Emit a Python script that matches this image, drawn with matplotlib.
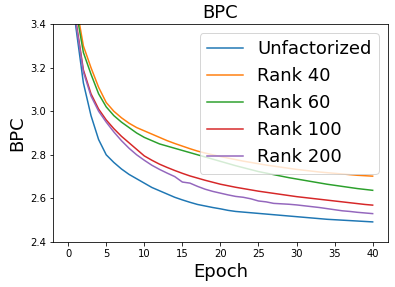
import matplotlib
matplotlib.use("Agg")
import matplotlib.pyplot as plt

epochs = list(range(41))

unfactorized = [
    3.90, 3.39, 3.13, 2.98, 2.87, 2.80, 2.765, 2.735, 2.71, 2.69,
    2.67, 2.65, 2.635, 2.62, 2.605, 2.593, 2.582, 2.572, 2.565, 2.558,
    2.552, 2.545, 2.540, 2.537, 2.534, 2.531, 2.528, 2.525, 2.522, 2.519,
    2.516, 2.513, 2.510, 2.507, 2.504, 2.502, 2.500, 2.498, 2.496, 2.494,
    2.492,
]
rank_40 = [
    4.10, 3.50, 3.30, 3.20, 3.11, 3.04, 3.00, 2.97, 2.945, 2.925,
    2.91, 2.895, 2.88, 2.865, 2.852, 2.84, 2.828, 2.817, 2.808, 2.80,
    2.792, 2.785, 2.778, 2.771, 2.765, 2.759, 2.753, 2.748, 2.743, 2.738,
    2.733, 2.729, 2.725, 2.721, 2.718, 2.715, 2.712, 2.709, 2.706, 2.704,
    2.702,
]
rank_60 = [
    4.00, 3.47, 3.27, 3.17, 3.08, 3.02, 2.98, 2.95, 2.925, 2.90,
    2.88, 2.865, 2.85, 2.84, 2.83, 2.82, 2.81, 2.80, 2.79, 2.78,
    2.770, 2.760, 2.750, 2.741, 2.732, 2.723, 2.716, 2.709, 2.702, 2.695,
    2.689, 2.683, 2.677, 2.671, 2.665, 2.660, 2.655, 2.650, 2.645, 2.641,
    2.637,
]
rank_100 = [
    4.00, 3.42, 3.19, 3.08, 3.01, 2.96, 2.92, 2.885, 2.855, 2.825,
    2.795, 2.775, 2.757, 2.742, 2.728, 2.715, 2.703, 2.693, 2.683, 2.674,
    2.665, 2.658, 2.651, 2.645, 2.639, 2.633, 2.628, 2.623, 2.618, 2.613,
    2.608, 2.604, 2.600, 2.596, 2.592, 2.588, 2.584, 2.580, 2.576, 2.572,
    2.569,
]
rank_200 = [
    4.00, 3.41, 3.18, 3.07, 3.00, 2.95, 2.905, 2.865, 2.83, 2.80,
    2.775, 2.752, 2.733, 2.716, 2.70, 2.675, 2.670, 2.655, 2.642, 2.632,
    2.624, 2.616, 2.609, 2.605, 2.598, 2.588, 2.584, 2.577, 2.575, 2.573,
    2.570, 2.566, 2.562, 2.558, 2.553, 2.548, 2.543, 2.540, 2.536, 2.533,
    2.530,
]

series = [
    ("Unfactorized", unfactorized),
    ("Rank 40", rank_40),
    ("Rank 60", rank_60),
    ("Rank 100", rank_100),
    ("Rank 200", rank_200),
]

fig, ax = plt.subplots(figsize=(395 / 72, 287 / 72), dpi=72)
fig.subplots_adjust(left=0.134, right=0.982, bottom=0.157, top=0.916)

for label, values in series:
    ax.plot(epochs, values, label=label)

ax.set_ylim(2.4, 3.4)
ax.set_title("BPC", fontsize=18)
ax.set_xlabel("Epoch", fontsize=18)
ax.set_ylabel("BPC", fontsize=18)
ax.legend(loc="upper right", fontsize=18)

fig.savefig("out.png", dpi=72)
